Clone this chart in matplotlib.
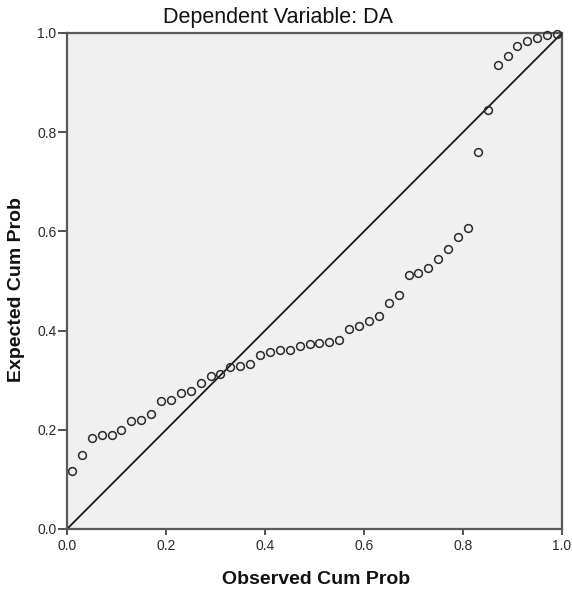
import matplotlib
matplotlib.use("Agg")
import matplotlib.pyplot as plt

# observed cumulative probability (x) and expected cumulative probability (y)
observed = [0.01, 0.03, 0.05, 0.07, 0.09, 0.11, 0.13, 0.15, 0.17, 0.19,
            0.21, 0.23, 0.25, 0.27, 0.29, 0.31, 0.33, 0.35, 0.37, 0.39,
            0.41, 0.43, 0.45, 0.47, 0.49, 0.51, 0.53, 0.55, 0.57, 0.59,
            0.61, 0.63, 0.65, 0.67, 0.69, 0.71, 0.73, 0.75, 0.77, 0.79,
            0.81, 0.83, 0.85, 0.87, 0.89, 0.91, 0.93, 0.95, 0.97, 0.99]
expected = [0.117, 0.149, 0.184, 0.189, 0.189, 0.200, 0.218, 0.219, 0.232, 0.258,
            0.260, 0.275, 0.279, 0.294, 0.309, 0.313, 0.326, 0.329, 0.333, 0.350,
            0.357, 0.360, 0.360, 0.368, 0.372, 0.374, 0.377, 0.382, 0.403, 0.410,
            0.419, 0.429, 0.455, 0.471, 0.513, 0.517, 0.526, 0.545, 0.565, 0.589,
            0.607, 0.761, 0.844, 0.936, 0.954, 0.973, 0.983, 0.990, 0.995, 0.998]
ticks = [0.0, 0.2, 0.4, 0.6, 0.8, 1.0]
tick_labels = ["0.0", "0.2", "0.4", "0.6", "0.8", "1.0"]

plt.rcParams['font.family'] = ['Liberation Sans', 'DejaVu Sans']

fig = plt.figure(figsize=(5.72, 5.9), dpi=100)
ax = fig.add_axes([67 / 572, 61 / 590, 495 / 572, 496 / 590])
ax.set_facecolor('#f0f0f0')

ax.plot([0, 1], [0, 1], color='#1a1a1a', lw=1.3, zorder=2)
ax.plot(observed, expected, linestyle='none', marker='o', ms=5.6,
        mfc='none', mec='#2a2a2a', mew=1.1, zorder=3, clip_on=False)

ax.set_xlim(0, 1)
ax.set_ylim(0, 1)
ax.set_xticks(ticks)
ax.set_xticklabels(tick_labels)
ax.set_yticks(ticks)
ax.set_yticklabels(tick_labels)
ax.tick_params(axis='x', direction='out', length=4, width=1.2, color='#333333',
               labelsize=10, labelcolor='#2a2a2a', pad=3)
ax.tick_params(axis='y', direction='out', length=6.5, width=1.2, color='#333333',
               labelsize=10, labelcolor='#2a2a2a', pad=1)
for side in ['top', 'right', 'left', 'bottom']:
    ax.spines[side].set_color('#5a5a5a')
    ax.spines[side].set_linewidth(1.6)

fig.text(316 / 572, 1 - 584 / 590, 'Observed Cum Prob', ha='center',
         va='baseline', fontsize=14, fontweight='bold', color='#111111')
fig.text(17 / 572, 1 - 290 / 590, 'Expected Cum Prob', ha='center',
         va='center', rotation=90, fontsize=14, fontweight='bold', color='#111111')
fig.text(278 / 572, 1 - 23 / 590, 'Dependent Variable: DA', ha='center',
         va='baseline', fontsize=15.5, color='#111111')

fig.savefig('out.png', dpi=100)
